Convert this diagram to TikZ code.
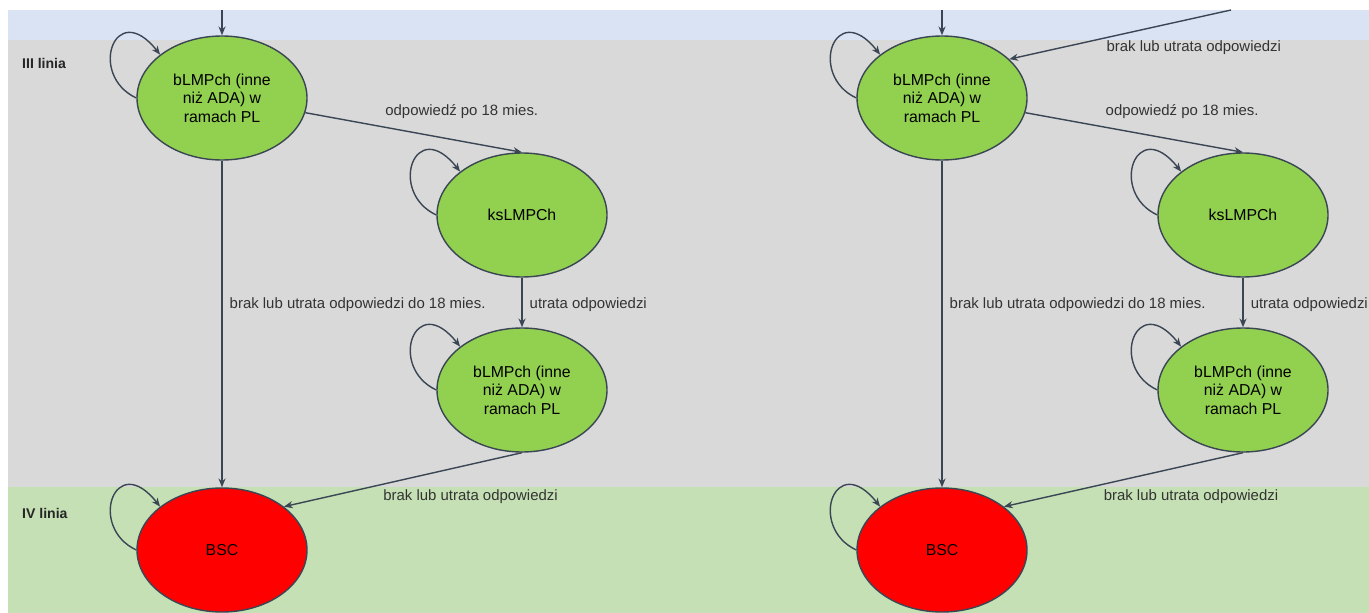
\documentclass[tikz,border=0pt]{standalone}
\usepackage{fontspec}
\setmainfont{Liberation Sans}
\usetikzlibrary{shapes.geometric,arrows.meta}
\definecolor{topband}{HTML}{DAE3F3}
\definecolor{midband}{HTML}{D9D9D9}
\definecolor{lowband}{HTML}{C5E0B4}
\definecolor{stategreen}{HTML}{92D050}
\definecolor{edgecol}{HTML}{3B4654}

\begin{document}
\begin{tikzpicture}[x=0.2mm,y=-0.2mm,
  state/.style={ellipse,draw=edgecol,line width=0.8pt,fill=stategreen,
    minimum width=3.4cm,minimum height=2.48cm,inner sep=0pt,align=center,
    font=\fontsize{9}{10.5}\selectfont},
  bsc/.style={state,fill=red},
  arr/.style={-{Stealth[length=5pt,width=4pt]},draw=edgecol,line width=0.8pt},
  lbl/.style={font=\fontsize{8.5}{10}\selectfont,text=black!80,inner sep=2pt},
  tier/.style={font=\fontsize{8}{10}\selectfont\bfseries,text=black!85,anchor=west}]
\useasboundingbox (0,0) rectangle (1369,613);
% bands
\fill[topband] (8,10) rectangle (1369,40);
\fill[midband] (8,40) rectangle (1369,487);
\fill[lowband] (8,487) rectangle (1369,613);
\node[tier] (t3) at (16,63) {III linia};
\node[tier] (t4) at (16,513) {IV linia};

% left
\coordinate (inL) at (222,10);
\node[state] (b1L) at (222,98) {bLMPch (inne\\niż ADA) w\\ramach PL};
\node[state] (ksL) at (522,215) {ksLMPCh};
\node[state] (b2L) at (522,390) {bLMPch (inne\\niż ADA) w\\ramach PL};
\node[bsc] (bscL) at (222,550) {BSC};
\draw[arr] (inL) -- (b1L.north);
\draw[arr] (b1L.-10) -- node[lbl,pos=0.35,anchor=south west,yshift=2pt] {odpowiedź po 18 mies.} (ksL.north);
\draw[arr] (b1L.south) -- node[lbl,pos=0.44,right,xshift=2pt] {brak lub utrata odpowiedzi do 18 mies.} (bscL.north);
\draw[arr] (ksL.south) -- node[lbl,pos=0.55,right,xshift=2pt] {utrata odpowiedzi} (b2L.north);
\draw[arr] (b2L.south) -- node[lbl,pos=0.6,anchor=north west] {brak lub utrata odpowiedzi} (bscL.35);
\draw[arr] (b1L.180) .. controls +(-49,-23) and +(-45,-57) .. (b1L.145);
\draw[arr] (ksL.180) .. controls +(-49,-23) and +(-45,-57) .. (ksL.145);
\draw[arr] (b2L.180) .. controls +(-49,-23) and +(-45,-57) .. (b2L.145);
\draw[arr] (bscL.180) .. controls +(-49,-23) and +(-45,-57) .. (bscL.145);

% right
\coordinate (inR) at (942,10);
\coordinate (backR) at (1231,10);
\node[state] (b1R) at (942,98) {bLMPch (inne\\niż ADA) w\\ramach PL};
\node[state] (ksR) at (1243,215) {ksLMPCh};
\node[state] (b2R) at (1243,390) {bLMPch (inne\\niż ADA) w\\ramach PL};
\node[bsc] (bscR) at (942,550) {BSC};
\draw[arr] (inR) -- (b1R.north);
\draw[arr] (backR) -- node[lbl,pos=0.58,anchor=north west,yshift=1pt] {brak lub utrata odpowiedzi} (b1R.30);
\draw[arr] (b1R.-10) -- node[lbl,pos=0.35,anchor=south west,yshift=2pt] {odpowiedź po 18 mies.} (ksR.north);
\draw[arr] (b1R.south) -- node[lbl,pos=0.44,right,xshift=2pt] {brak lub utrata odpowiedzi do 18 mies.} (bscR.north);
\draw[arr] (ksR.south) -- node[lbl,pos=0.55,right,xshift=2pt] {utrata odpowiedzi} (b2R.north);
\draw[arr] (b2R.south) -- node[lbl,pos=0.6,anchor=north west] {brak lub utrata odpowiedzi} (bscR.35);
\draw[arr] (b1R.180) .. controls +(-49,-23) and +(-45,-57) .. (b1R.145);
\draw[arr] (ksR.180) .. controls +(-49,-23) and +(-45,-57) .. (ksR.145);
\draw[arr] (b2R.180) .. controls +(-49,-23) and +(-45,-57) .. (b2R.145);
\draw[arr] (bscR.180) .. controls +(-49,-23) and +(-45,-57) .. (bscR.145);
\end{tikzpicture}
\end{document}
